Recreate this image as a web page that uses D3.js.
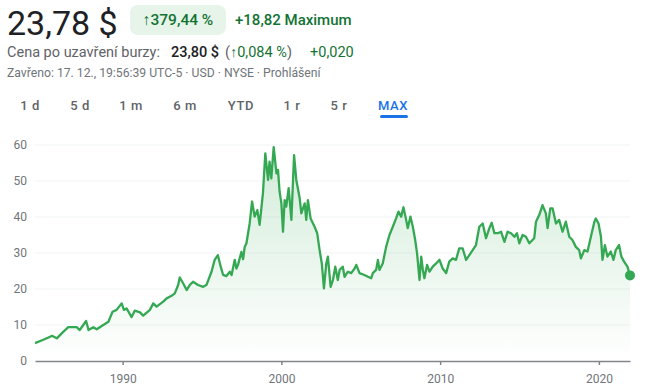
<!DOCTYPE html>
<html>
<head>
<meta charset="utf-8">
<script src="https://cdn.jsdelivr.net/npm/d3@7"></script>
<style>
  body { margin: 0; background: #fff; }
  svg { display: block; font-family: Roboto, "Noto Sans", sans-serif; }
</style>
</head>
<body>
<div id="chart"></div>
<script>
// Price history (MAX range).
const dates = [
  "1984-06-24","1985-01-01","1985-06-06","1985-07-19","1985-11-07","1986-04-04","1986-07-30",
  "1987-02-07","1987-04-19","1987-09-13","1987-11-07","1988-02-25","1988-05-14","1988-09-06",
  "1989-02-07","1989-05-14","1989-08-14","1989-12-09","1990-01-30","1990-04-01","1990-07-26",
  "1990-10-08","1991-02-03","1991-04-19","1991-09-20","1991-12-06","1992-02-21","1992-07-22",
  "1992-10-08","1993-01-30","1993-04-15","1993-07-01","1993-08-07","1993-10-23","1994-01-12",
  "1994-03-24","1994-06-09","1994-10-01","1995-01-26","1995-04-12","1995-08-07","1995-10-19",
  "1996-01-01","1996-03-06","1996-04-30","1996-07-15","1996-10-01","1996-11-11","1997-01-23",
  "1997-03-02","1997-04-08","1997-06-24","1997-08-03","1997-09-09","1997-10-19","1998-01-01",
  "1998-02-25","1998-04-26","1998-06-27","1998-08-18","1998-11-03","1998-12-27","1999-02-28",
  "1999-04-04","1999-05-14","1999-07-08","1999-09-09","1999-10-15","1999-11-21","2000-01-01",
  "2000-02-07","2000-03-16","2000-04-22","2000-06-16","2000-08-18","2000-10-19","2000-12-09",
  "2001-02-25","2001-04-04","2001-06-20","2001-07-26","2001-09-02","2001-11-03","2002-02-03",
  "2002-04-04","2002-05-29","2002-07-19","2002-09-06","2002-10-30","2002-12-06","2003-02-07",
  "2003-04-01","2003-05-25","2003-07-22","2003-09-02","2003-11-14","2003-12-24","2004-03-09",
  "2004-05-25","2004-08-11","2004-09-20","2004-12-02","2005-03-27","2005-06-13","2005-08-29",
  "2005-10-05","2005-12-20","2006-01-30","2006-03-06","2006-05-21","2006-08-07","2006-10-23",
  "2007-01-08","2007-03-24","2007-05-18","2007-07-19","2007-09-09","2007-11-11","2007-12-17",
  "2008-02-18","2008-04-12","2008-06-06","2008-07-19","2008-09-13","2008-10-23","2008-11-29",
  "2009-01-04","2009-03-06","2009-04-30","2009-07-15","2009-10-01","2009-12-17","2010-02-28",
  "2010-05-18","2010-07-30","2010-10-15","2011-01-01","2011-03-16","2011-06-02","2011-08-21",
  "2011-11-03","2012-01-19","2012-04-04","2012-06-20","2012-09-06","2012-11-21","2013-02-07",
  "2013-04-01","2013-06-02","2013-08-18","2013-11-03","2014-01-19","2014-04-01","2014-06-20",
  "2014-09-06","2014-11-03","2014-12-27","2015-03-13","2015-05-29","2015-08-14","2015-10-26",
  "2015-12-06","2016-01-15","2016-04-01","2016-06-13","2016-08-29","2016-10-08","2016-12-09",
  "2017-01-30","2017-04-19","2017-07-01","2017-09-17","2017-12-02","2018-02-18","2018-05-03",
  "2018-07-19","2018-10-05","2018-11-14","2019-01-30","2019-04-15","2019-07-01","2019-09-20",
  "2019-10-23","2019-12-24","2020-02-18","2020-03-24","2020-05-18","2020-07-15","2020-10-01",
  "2020-12-02","2021-01-23","2021-04-08","2021-06-02","2021-08-03","2021-10-19","2021-12-17"
];
const prices = [
  4.96,5.9,6.75,7.0,6.3,8.1,9.4,
  9.4,8.6,11.1,8.6,9.4,8.8,9.7,
  10.9,13.7,14.2,16.0,14.2,14.6,12.2,
  14.0,13.5,12.6,14.2,16.0,15.1,16.5,
  17.4,18.1,18.8,21.1,23.2,21.6,19.7,
  21.1,22.0,21.1,20.6,21.1,24.8,28.1,
  29.4,26.2,23.9,23.6,24.8,23.9,28.1,
  25.7,26.7,30.3,28.3,31.7,32.7,38.2,
  44.3,40.1,41.9,37.8,46.6,57.7,50.3,
  55.4,50.7,59.4,52.1,53.1,47.0,43.8,
  35.9,44.7,42.9,48.0,39.2,57.2,50.3,
  45.2,41.0,43.8,39.2,44.7,39.6,37.3,
  35.5,30.8,27.1,20.2,27.1,29.0,20.6,
  22.5,26.2,22.5,25.3,26.2,23.4,24.8,
  24.4,25.7,26.7,24.4,23.9,23.4,23.0,
  24.4,25.3,28.1,25.3,27.1,31.7,35.0,
  37.3,39.6,41.5,40.1,42.7,39.2,36.9,
  40.1,37.3,33.6,29.9,22.5,29.0,25.3,
  23.0,26.7,24.8,26.2,27.1,28.1,25.7,
  24.4,27.6,28.5,28.1,31.3,31.3,28.1,
  29.4,30.8,32.2,37.3,38.2,34.1,36.9,
  38.4,35.5,35.5,35.9,33.1,35.9,35.5,
  34.5,35.5,32.7,35.0,34.5,32.7,33.6,
  34.1,38.7,40.6,43.3,41.0,36.9,42.4,
  42.4,38.2,39.2,35.9,38.7,34.5,33.6,
  31.7,30.8,28.5,30.8,30.4,34.5,38.7,
  39.6,38.2,34.5,28.1,32.2,29.0,30.4,
  28.1,30.8,32.2,29.0,27.6,26.2,23.78
];
const yTicks = [0, 10, 20, 30, 40, 50, 60];
const xTickYears = [1990, 2000, 2010, 2020];
const ranges = ["1 d", "5 d", "1 m", "6 m", "YTD", "1 r", "5 r", "MAX"];

const width = 650, height = 389;
const parse = d3.timeParse("%Y-%m-%d");
const data = dates.map((d, i) => ({ date: parse(d), value: prices[i] }));

const svg = d3.select("#chart").append("svg")
  .attr("width", width)
  .attr("height", height);

// Header: price and change
svg.append("text")
  .attr("x", 7).attr("y", 35)
  .attr("fill", "#202124")
  .style("font-size", "34px")
  .text("23,78 $");

svg.append("rect")
  .attr("x", 130).attr("y", 5)
  .attr("width", 96).attr("height", 30)
  .attr("rx", 8)
  .attr("fill", "#e6f4ea");
svg.append("text")
  .attr("x", 178).attr("y", 25)
  .attr("text-anchor", "middle")
  .attr("fill", "#137333")
  .style("font-size", "15.5px")
  .style("font-weight", 500)
  .text("↑379,44 %");
svg.append("text")
  .attr("x", 235).attr("y", 25)
  .attr("fill", "#137333")
  .style("font-size", "15px")
  .style("font-weight", 500)
  .text("+18,82 Maximum");

// After-hours line
const ah = svg.append("text")
  .attr("x", 7).attr("y", 57)
  .style("font-size", "14.5px");
ah.append("tspan").attr("fill", "#5f6368").text("Cena po uzavření burzy:");
ah.append("tspan").attr("x", 171).attr("fill", "#202124").style("font-weight", 500).text("23,80 $");
ah.append("tspan").attr("x", 225).attr("fill", "#5f6368").text("(");
ah.append("tspan").attr("fill", "#137333").text("↑0,084 %");
ah.append("tspan").attr("fill", "#5f6368").text(")");
ah.append("tspan").attr("x", 310).attr("fill", "#137333").text("+0,020");

svg.append("text")
  .attr("x", 7).attr("y", 77)
  .attr("fill", "#70757a")
  .style("font-size", "12.2px")
  .text("Zavřeno: 17. 12., 19:56:39 UTC-5 · USD · NYSE · Prohlášení");

// Range tabs
const tabX = [30, 80, 131, 185, 241, 292, 339, 393];
svg.selectAll(".tab")
  .data(ranges)
  .enter()
  .append("text")
    .attr("class", "tab")
    .attr("x", (d, i) => tabX[i])
    .attr("y", 110)
    .attr("text-anchor", "middle")
    .attr("fill", d => d === "MAX" ? "#1a73e8" : "#5f6368")
    .style("font-size", "13px")
    .style("font-weight", 500)
    .style("letter-spacing", "0.6px")
    .text(d => d);
svg.append("rect")
  .attr("x", 380).attr("y", 115)
  .attr("width", 28).attr("height", 3)
  .attr("rx", 1.5)
  .attr("fill", "#1a73e8");

// Scales
const x = d3.scaleTime()
  .domain(d3.extent(data, d => d.date))
  .range([35, 630]);
const y = d3.scaleLinear()
  .domain([0, 60])
  .range([361, 145]);

// Gridlines and y labels
svg.selectAll(".grid")
  .data(yTicks.filter(t => t > 0))
  .enter()
  .append("line")
    .attr("x1", 35).attr("x2", 630)
    .attr("y1", d => y(d)).attr("y2", d => y(d))
    .attr("stroke", "#f1f3f4")
    .attr("stroke-width", 1);

svg.selectAll(".ylab")
  .data(yTicks)
  .enter()
  .append("text")
    .attr("x", 27)
    .attr("y", d => y(d) + 4)
    .attr("text-anchor", "end")
    .attr("fill", "#70757a")
    .style("font-size", "12px")
    .text(d => d);

// Area with fading gradient
const grad = svg.append("defs").append("linearGradient")
  .attr("id", "fade")
  .attr("gradientUnits", "userSpaceOnUse")
  .attr("x1", 0).attr("x2", 0)
  .attr("y1", y(60)).attr("y2", y(0));
grad.append("stop").attr("offset", 0).attr("stop-color", "#34a853").attr("stop-opacity", 0.22);
grad.append("stop").attr("offset", 1).attr("stop-color", "#34a853").attr("stop-opacity", 0);

svg.append("path")
  .datum(data)
  .attr("fill", "url(#fade)")
  .attr("d", d3.area()
    .x(d => x(d.date))
    .y0(y(0))
    .y1(d => y(d.value)));

svg.append("path")
  .datum(data)
  .attr("fill", "none")
  .attr("stroke", "#34a853")
  .attr("stroke-width", 2.3)
  .attr("stroke-linejoin", "round")
  .attr("d", d3.line()
    .x(d => x(d.date))
    .y(d => y(d.value)));

// Bottom axis
const xAxis = d3.axisBottom(x)
  .tickValues(xTickYears.map(yr => new Date(yr, 0, 1)))
  .tickFormat(d3.timeFormat("%Y"))
  .tickSize(4)
  .tickSizeOuter(0);
const gx = svg.append("g")
  .attr("transform", "translate(0," + y(0) + ")")
  .call(xAxis);
gx.select(".domain").attr("stroke", "#80868b").attr("stroke-width", 1.5);
gx.selectAll(".tick line").attr("stroke", "#80868b").attr("stroke-width", 1.5);
gx.selectAll(".tick text")
  .attr("fill", "#70757a")
  .attr("dy", "1.25em")
  .style("font-size", "12px")
  .style("font-family", "Roboto, sans-serif");

// Last price dot
const last = data[data.length - 1];
svg.append("circle")
  .attr("cx", x(last.date))
  .attr("cy", y(last.value))
  .attr("r", 5)
  .attr("fill", "#34a853");
</script>
</body>
</html>
